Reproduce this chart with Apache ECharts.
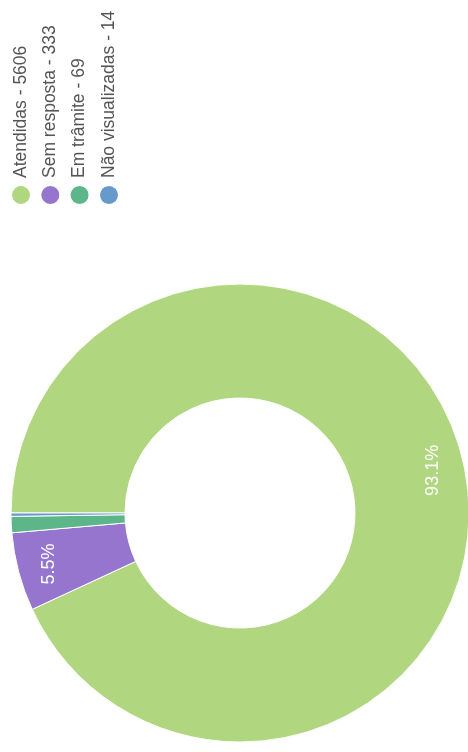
<!DOCTYPE html>
<html>
<head>
<meta charset="utf-8">
<script src="https://cdn.jsdelivr.net/npm/echarts@6/dist/echarts.min.js"></script>
<style>
html,body{margin:0;padding:0;background:#fff;overflow:hidden;width:468px;height:752px;}
/* o grafico original esta deitado: desenha 752x468 e gira -90deg */
#chart{position:absolute;left:0;top:0;width:752px;height:468px;transform-origin:0 0;transform:translateY(752px) rotate(-90deg);}
</style>
</head>
<body>
<div id="chart"></div>
<script>
var nomes = ['Atendidas', 'Sem resposta', 'Em trâmite', 'Não visualizadas'];
var valores = [5606, 333, 69, 14];
var cores = ['#b0d77f', '#9575cd', '#5cb68a', '#6699cc'];

var dados = [];
var rotulos = [];
for (var i = 0; i < nomes.length; i++) {
	dados.push({name: nomes[i], value: valores[i], itemStyle: {color: cores[i]}});
	rotulos.push({name: nomes[i], value: valores[i]});
}

var chart = echarts.init(document.getElementById('chart'));
var option = {
	animation: false,
	legend: {
		orient: 'vertical',
		left: 543,
		top: 7,
		icon: 'circle',
		itemWidth: 24,
		itemHeight: 18,
		itemGap: 11.3,
		itemStyle: {borderWidth: 0},
		textStyle: {fontFamily: 'Liberation Sans, Arial, sans-serif', fontSize: 17.5, color: '#555'},
		formatter: function (name) {
			return name + ' - ' + valores[nomes.indexOf(name)];
		},
		data: nomes
	},
	series: [{
		type: 'pie',
		center: [239, 240],
		radius: [115, 229],
		startAngle: 90,
		clockwise: true,
		itemStyle: {borderColor: '#fff', borderWidth: 1},
		label: {show: false},
		labelLine: {show: false},
		emphasis: {disabled: true},
		data: dados
	}, {
		// so os rotulos, um pouco mais pra fora
		type: 'pie',
		silent: true,
		center: [239, 240],
		radius: [161, 229],
		startAngle: 90,
		clockwise: true,
		minShowLabelAngle: 10,
		itemStyle: {color: 'rgba(0,0,0,0)'},
		label: {
			show: true,
			position: 'inside',
			formatter: function (p) {
				return p.percent.toFixed(1) + '%';
			},
			color: '#fff',
			fontFamily: 'Liberation Sans, Arial, sans-serif',
			fontSize: 18
		},
		labelLine: {show: false},
		data: rotulos
	}]
};
chart.setOption(option);
</script>
</body>
</html>
